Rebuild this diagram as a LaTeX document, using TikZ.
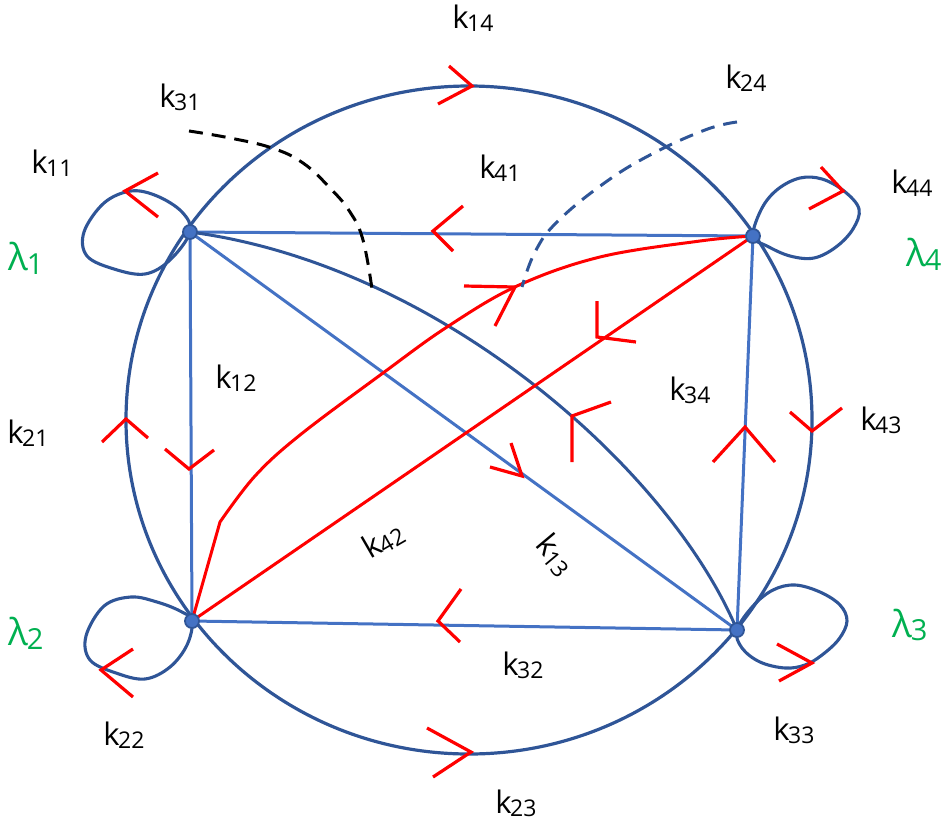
\documentclass[tikz,border=0pt]{standalone}
\usepackage{fontspec}
\setmainfont{Open Sans}
\definecolor{dblue}{HTML}{2F5597}
\definecolor{lblue}{HTML}{4472C4}
\definecolor{lgreen}{HTML}{00B050}
\newcommand\kl[1]{k\kern-1.5pt\raisebox{-0.1em}{\fontsize{23}{25}\selectfont #1}}
\newcommand\lmb[1]{λ\kern-1.5pt\raisebox{-0.1em}{\fontsize{29}{31}\selectfont #1}}
\tikzset{
  circ/.style={dblue, line width=3.2pt},
  edge/.style={lblue, line width=3pt},
  curveedge/.style={dblue, line width=3pt},
  loopline/.style={dblue, line width=3.1pt},
  redl/.style={red, line width=3pt},
  chev/.style={red, line width=3.2pt},
  lbl/.style={font=\fontsize{31}{33}\selectfont, inner sep=0pt},
  lam/.style={font=\fontsize{37}{39}\selectfont, inner sep=0pt, text=lgreen},
  dotst/.style={fill=lblue, draw=dblue, line width=1.8pt},
  blackdash/.style={black, line width=3pt, dash pattern=on 14pt off 9pt},
  bluedash/.style={dblue, line width=3pt, dash pattern=on 14pt off 9pt}
}
\begin{document}
\begin{tikzpicture}[x=1pt,y=-1pt]
\useasboundingbox (0,0) rectangle (944,827);
% vertices
\coordinate (n1) at (190,232);
\coordinate (n2) at (192,621);
\coordinate (n3) at (737,630);
\coordinate (n4) at (753,236);
% outer circle
\draw[circ] (469,420) ellipse [x radius=343, y radius=334];
% loops
\draw[loopline] plot[smooth cycle, tension=0.6] coordinates {(n1) (182,212) (157,196) (131,191) (104,203) (84,232) (87,256) (114,269) (145,274) (170,260)};
\draw[loopline] plot[smooth cycle, tension=0.6] coordinates {(n2) (180,611) (157,602) (131,597) (104,606) (86,636) (90,660) (116,673) (145,679) (170,667) (187,645)};
\draw[loopline] plot[smooth cycle, tension=0.6] coordinates {(n4) (762,208) (778,189) (800,178) (822,179) (844,191) (859,209) (853,229) (836,247) (814,258) (790,256) (767,246)};
\draw[loopline] plot[smooth cycle, tension=0.6] coordinates {(n3) (753,606) (773,590) (795,585) (820,592) (840,605) (847,621) (839,639) (822,655) (805,665) (785,668) (760,662) (742,648)};
% straight edges
\draw[edge] (n1) -- (n4);
\draw[edge] (n1) -- (n2);
\draw[edge] (n2) -- (n3);
\draw[edge] (n4) -- (n3);
\draw[edge] (n1) -- (n3);
% curved edge 1-3
\draw[curveedge] (n1) .. controls (440,265) and (670,470) .. (n3);
% red edges 2-4
\draw[redl] (n2) -- (n4);
\draw[redl] (n2) -- (220,522) -- plot[smooth, tension=0.6] coordinates {(220,522) (255,476) (300,435) (383,373) (447,327) (517,286) (600,257) (700,241) (n4)};
% dashed curves
\draw[blackdash] plot[smooth, tension=0.7] coordinates {(189,131) (230,138) (272,148) (303,163) (330,188) (350,212) (363,240) (372,289)};
\draw[bluedash] plot[smooth, tension=0.7] coordinates {(737,122) (705,130) (650,155) (603,184) (557,222) (535,252) (522,287)};
% chevrons
\draw[chev] (449,66) -- (472,86) -- (438,104);
\draw[chev] (463,206) -- (433,231) -- (453,251);
\draw[chev] (158,173) -- (125,191) -- (158,217);
\draw[chev] (821,167) -- (843,191) -- (809,209);
\draw[chev] (133,649) -- (101,670) -- (133,697);
\draw[chev] (777,644) -- (812,663) -- (779,681);
\draw[chev] (102,442) -- (126,419) -- (148,438);
\draw[chev] (165,449) -- (189,469) -- (214,450);
\draw[chev] (713,462) -- (745,427) -- (775,462);
\draw[chev] (790,412) -- (812,431) -- (842,408);
\draw[chev] (611,402) -- (572,416) -- (572,462);
\draw[chev] (490,467) -- (522,476) -- (511,443);
\draw[chev] (461,589) -- (438,621) -- (460,642);
\draw[chev] (427,728) -- (471,752) -- (433,777);
\draw[chev] (464,286) -- (515,287) -- (495,326);
\draw[chev] (597,301) -- (597,337) -- (636,342);
% vertex dots
\filldraw[dotst] (n1) circle (7);
\filldraw[dotst] (n2) circle (7);
\filldraw[dotst] (n3) circle (7);
\filldraw[dotst] (n4) circle (7);
% labels
\node[lbl] (l14) at (473,18) {\kl{14}};
\node[lbl] (l24) at (746,78) {\kl{24}};
\node[lbl] (l31) at (180,97) {\kl{31}};
\node[lbl] (l11) at (52,163) {\kl{11}};
\node[lbl] (l41) at (500,168) {\kl{41}};
\node[lbl] (l44) at (912,183) {\kl{44}};
\node[lbl] (l12) at (236,378) {\kl{12}};
\node[lbl] (l21) at (28,433) {\kl{21}};
\node[lbl] (l34) at (690,390) {\kl{34}};
\node[lbl] (l43) at (881,420) {\kl{43}};
\node[lbl, rotate=30] (l42) at (383,540) {\kl{42}};
\node[lbl, rotate=-50] (l13) at (555,555) {\kl{13}};
\node[lbl] (l32) at (523,665) {\kl{32}};
\node[lbl] (l22) at (124,735) {\kl{22}};
\node[lbl] (l33) at (794,730) {\kl{33}};
\node[lbl] (l23) at (516,803) {\kl{23}};
\node[lam] (a1) at (26,258) {\lmb{1}};
\node[lam] (a4) at (924,254) {\lmb{4}};
\node[lam] (a2) at (26,633) {\lmb{2}};
\node[lam] (a3) at (910,625) {\lmb{3}};
\end{tikzpicture}
\end{document}
